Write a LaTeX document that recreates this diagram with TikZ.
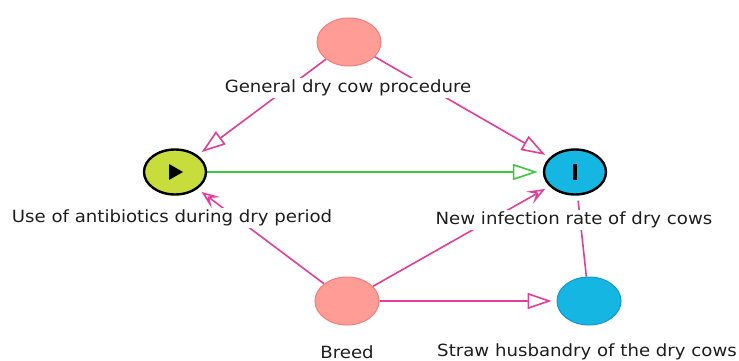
\documentclass[tikz,border=0pt]{standalone}
\usepackage{fontspec}
\setmainfont{DejaVu Sans}[FakeStretch=1.08]
\usetikzlibrary{arrows.meta,shapes.geometric}
\pgfdeclarelayer{edges}
\pgfsetlayers{edges,main}
\definecolor{salmon}{RGB}{255,156,150}
\definecolor{salmonline}{RGB}{242,125,125}
\definecolor{lime}{RGB}{200,221,60}
\definecolor{cyanfill}{RGB}{22,182,226}
\definecolor{cyanline}{RGB}{20,150,205}
\definecolor{pinkline}{RGB}{226,62,152}
\definecolor{greenline}{RGB}{60,200,60}
\definecolor{txt}{RGB}{30,30,30}
\tikzset{
  varnode/.style={ellipse, minimum width=64pt, minimum height=48pt, inner sep=0pt},
  factor/.style={varnode, fill=salmon, draw=salmonline, line width=1pt},
  outcome/.style={varnode, fill=cyanfill, draw=cyanline, line width=1pt},
  keynode/.style={ellipse, minimum width=62pt, minimum height=45pt, inner sep=0pt, draw=black, line width=2.4pt},
  lbl/.style={fill=white, inner sep=1.5pt, text=txt, font=\fontsize{16.8}{19}\selectfont},
  causal/.style={draw=pinkline, line width=1.6pt, shorten >=5pt},
  tri/.style={-{Triangle[open, length=24pt, width=16pt, line width=1.6pt]}},
  vee/.style={-{Stealth[open, length=18pt, width=14pt, inset=8pt, line width=1.6pt]}},
}
\begin{document}
\begin{tikzpicture}[x=1pt,y=-1pt]
\useasboundingbox (0,0) rectangle (739,361);
% variable nodes
\node[factor] (gen) at (349,42) {};
\node[keynode, fill=lime] (abx) at (175,172) {};
\node[keynode, fill=cyanfill] (nir) at (575,172) {};
\node[factor] (breed) at (347,301) {};
\node[outcome] (straw) at (589,301) {};
% icons
\fill[black] (abx.center) ++(-6,-8) -- ++(14,8) -- ++(-14,8) -- cycle;
\fill[black] (nir.center) ++(-2.4,-8) rectangle ++(4.8,16);
% labels
\node[lbl] (genl) at (348,88) {General dry cow procedure};
\node[lbl] (abxl) at (172,218) {Use of antibiotics during dry period};
\node[lbl] (nirl) at (574,220) {New infection rate of dry cows};
\node[lbl] (breedl) at (347,352) {Breed};
\node[lbl] (strawl) at (587,352) {Straw husbandry of the dry cows};
% connectors
\begin{pgfonlayer}{edges}
\draw[causal, tri] (gen) -- (abx);
\draw[causal, tri] (gen) -- (nir);
\draw[draw=greenline, line width=1.6pt, shorten >=5pt, -{Triangle[open, length=25pt, width=16pt, line width=1.6pt]}] (abx) -- (nir);
\draw[causal, vee] (breed) -- (abx);
\draw[causal, vee] (breed) -- (nir);
\draw[causal, tri] (breed) -- (straw);
\draw[causal] (straw) -- (nir);
\end{pgfonlayer}
\end{tikzpicture}
\end{document}
